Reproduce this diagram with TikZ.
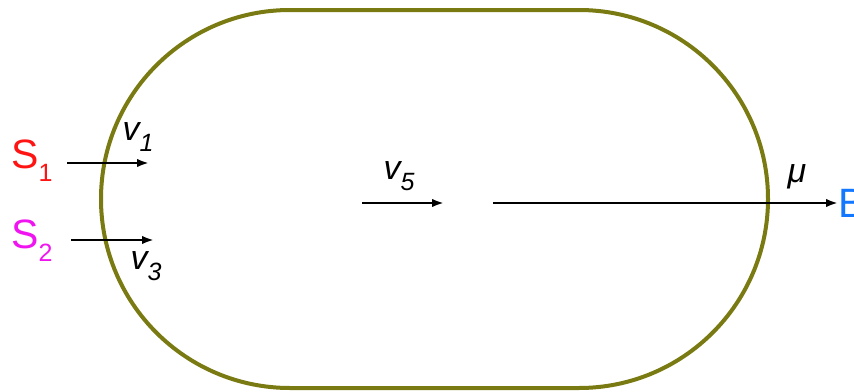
\documentclass[tikz,border=0pt]{standalone}
\usepackage{fontspec}
\setmainfont{Liberation Sans}
\usepackage{xcolor}
\usetikzlibrary{arrows.meta,positioning}

\definecolor{olivering}{RGB}{122,122,18}
\definecolor{srcred}{RGB}{255,20,20}
\definecolor{srcmag}{RGB}{240,20,240}
\definecolor{sinkblue}{RGB}{20,120,255}

% subscript a bit larger than \textsubscript
\newcommand{\lowidx}[1]{\raisebox{-0.32em}{\fontsize{25}{27}\selectfont #1}}

\begin{document}
\begin{tikzpicture}[x=1pt, y=-1pt, every node/.style={font=\fontsize{41}{45}\selectfont, inner sep=0pt},
  flow/.style={-{Latex[length=12pt,width=8.5pt]}, line width=2.5pt},
  rate/.style={font=\fontsize{34}{38}\selectfont\itshape}]

\useasboundingbox (0,0) rectangle (854,391);

% Stadium-shaped compartment
\draw[olivering, line width=4pt, rounded corners=189pt] (101,10) rectangle (768,388);

% Sources
\node[srcred] (s1) at (32,161) {S\lowidx{1}};
\node[srcmag] (s2) at (32,241) {S\lowidx{2}};

% Inflows
\coordinate (in1a) at (67,163);
\coordinate (in1b) at (149,163);
\coordinate (in2a) at (71,240);
\coordinate (in2b) at (154,240);
\draw[flow] (in1a) -- (in1b);
\draw[flow] (in2a) -- (in2b);
\node[rate] (v1) at (138,137) {v\lowidx{1}};
\node[rate] (v3) at (146,266) {v\lowidx{3}};

% Internal flux
\coordinate (in5a) at (362,203);
\coordinate (in5b) at (444,203);
\draw[flow] (in5a) -- (in5b);
\node[rate] (v5) at (399,176) {v\lowidx{5}};

% Outflow to B
\node[sinkblue, anchor=west] (b) at (838,203) {B};
\coordinate (outa) at (493,203);
\draw[flow] (outa) -- (b.west);
\node[rate] (mu) at (797,177) {μ};

\end{tikzpicture}
\end{document}
